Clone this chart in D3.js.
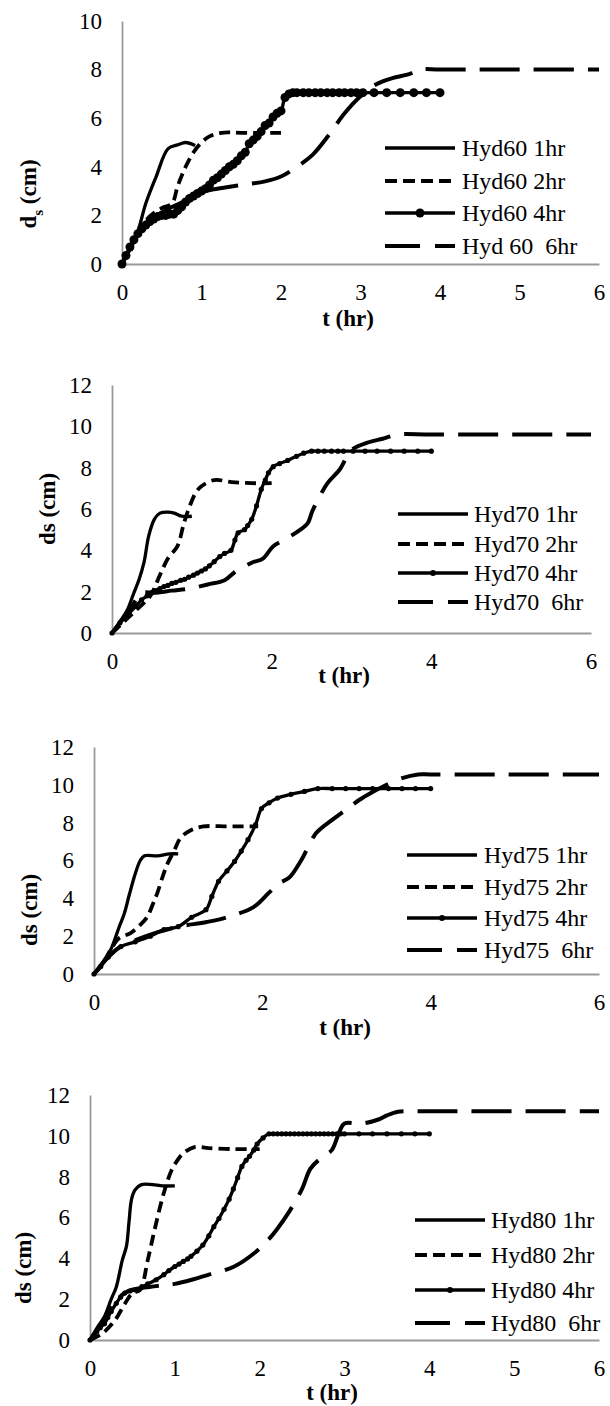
<!DOCTYPE html>
<html>
<head>
<meta charset="utf-8">
<script src="https://cdn.jsdelivr.net/npm/d3@7"></script>
<style>
  body { margin: 0; background: #fff; }
  svg { display: block; }
  text { font-family: "Liberation Serif", "Times New Roman", serif; fill: #000; white-space: pre; }
</style>
</head>
<body>
<svg id="chart" width="610" height="1406"></svg>
<script>
// ---- data: [t (hr), ds (cm)] ----
const hyd60_1hr = [[0,0],[0.1,0.6],[0.2,1.35],[0.3,2.5],[0.43,3.6],[0.58,4.75],[0.7,4.9],[0.8,5.0],[0.92,4.88]];
const hyd60_2hr = [[0,0],[0.1,0.6],[0.2,1.3],[0.3,1.8],[0.4,2.1],[0.5,2.3],[0.63,2.5],[0.7,3.2],[0.8,4.0],[0.9,4.6],[1.0,5.0],[1.1,5.25],[1.25,5.4],[1.5,5.4],[2.0,5.4]];
const hyd60_4hr = [[0,0],[0.05,0.35],[0.1,0.7],[0.15,1.0],[0.2,1.25],[0.25,1.45],[0.3,1.6],[0.35,1.75],[0.4,1.85],[0.45,1.95],[0.5,2.0],[0.55,2.0],[0.6,2.05],[0.65,2.05],[0.7,2.2],[0.75,2.35],[0.8,2.55],[0.85,2.7],[0.9,2.8],[0.95,2.9],[1.0,3.0],[1.05,3.1],[1.1,3.25],[1.15,3.45],[1.2,3.55],[1.25,3.7],[1.3,3.85],[1.35,4.0],[1.4,4.1],[1.45,4.25],[1.5,4.45],[1.55,4.6],[1.6,4.95],[1.65,5.1],[1.7,5.25],[1.75,5.45],[1.8,5.7],[1.85,5.8],[1.9,6.05],[1.95,6.2],[2.0,6.3],[2.05,6.85],[2.1,7.0],[2.15,7.05],[2.2,7.05],[2.28,7.05],[2.35,7.05],[2.43,7.05],[2.5,7.05],[2.58,7.05],[2.65,7.05],[2.73,7.05],[2.8,7.05],[2.88,7.05],[2.95,7.05],[3.03,7.05],[3.17,7.05],[3.33,7.05],[3.5,7.05],[3.67,7.05],[3.83,7.05],[4.0,7.05]];
const hyd60_6hr = [[0,0],[0.2,1.2],[0.4,1.9],[0.6,2.3],[0.8,2.6],[1.0,2.95],[1.2,3.1],[1.5,3.25],[1.8,3.4],[2.0,3.6],[2.2,4.0],[2.4,4.5],[2.6,5.3],[2.8,6.2],[3.0,6.9],[3.2,7.4],[3.4,7.65],[3.6,7.8],[3.75,8.0],[4.0,8.0],[5.0,8.0],[6.0,8.0]];

const hyd70_1hr = [[0,0],[0.1,0.55],[0.19,1.1],[0.27,1.9],[0.34,2.6],[0.4,3.4],[0.46,4.7],[0.53,5.5],[0.6,5.8],[0.7,5.85],[0.78,5.8],[0.87,5.65],[1.0,5.65]];
const hyd70_2hr = [[0,0],[0.15,0.55],[0.3,1.1],[0.48,1.8],[0.6,2.8],[0.7,3.6],[0.82,4.2],[0.9,5.3],[0.97,6.1],[1.05,6.8],[1.12,7.1],[1.28,7.4],[1.5,7.3],[1.75,7.25],[2.0,7.25]];
const hyd70_4hr = [[0,0],[0.1,0.5],[0.2,0.9],[0.3,1.3],[0.37,1.6],[0.44,1.8],[0.5,1.95],[0.55,2.05],[0.6,2.15],[0.65,2.25],[0.7,2.3],[0.75,2.4],[0.8,2.45],[0.86,2.55],[0.91,2.6],[0.96,2.7],[1.02,2.8],[1.07,2.9],[1.12,3.0],[1.17,3.1],[1.22,3.25],[1.28,3.45],[1.35,3.7],[1.41,3.85],[1.49,4.0],[1.54,4.5],[1.58,4.85],[1.66,5.0],[1.7,5.2],[1.75,5.5],[1.81,6.15],[1.87,6.95],[1.92,7.4],[1.96,7.75],[2.02,8.05],[2.1,8.2],[2.2,8.35],[2.31,8.55],[2.4,8.7],[2.5,8.8],[2.58,8.8],[2.66,8.8],[2.75,8.8],[2.83,8.8],[2.9,8.8],[3.02,8.8],[3.17,8.8],[3.32,8.8],[3.49,8.8],[3.66,8.8],[3.83,8.8],[4.0,8.8]];
const hyd70_6hr = [[0,0],[0.1,0.5],[0.2,1.0],[0.3,1.6],[0.36,1.93],[0.55,1.95],[0.75,2.05],[0.97,2.15],[1.2,2.35],[1.41,2.55],[1.54,2.95],[1.75,3.4],[1.89,3.6],[2.02,4.2],[2.2,4.6],[2.36,5.0],[2.45,5.3],[2.51,5.9],[2.6,6.6],[2.7,7.25],[2.85,7.9],[3.0,8.85],[3.19,9.2],[3.39,9.4],[3.58,9.6],[4.0,9.6],[6.0,9.6]];

const hyd75_1hr = [[0,0],[0.1,0.6],[0.2,1.3],[0.3,2.5],[0.36,3.2],[0.42,4.2],[0.49,5.3],[0.55,6.0],[0.6,6.25],[0.75,6.25],[0.9,6.35],[1.0,6.35]];
const hyd75_2hr = [[0,0],[0.1,0.5],[0.2,1.3],[0.3,1.9],[0.43,2.15],[0.55,2.6],[0.63,3.0],[0.7,3.7],[0.75,4.25],[0.82,5.2],[0.87,5.8],[0.95,6.5],[1.03,7.2],[1.15,7.6],[1.3,7.8],[1.6,7.8],[1.95,7.8]];
const hyd75_4hr = [[0,0],[0.08,0.4],[0.17,0.9],[0.32,1.45],[0.49,1.7],[0.67,2.0],[0.83,2.35],[1.0,2.5],[1.16,3.0],[1.33,3.4],[1.4,4.1],[1.48,4.9],[1.58,5.45],[1.67,5.95],[1.75,6.5],[1.83,7.1],[1.92,7.9],[1.99,8.75],[2.08,9.05],[2.18,9.3],[2.34,9.5],[2.5,9.65],[2.66,9.8],[2.83,9.8],[2.99,9.8],[3.15,9.8],[3.31,9.8],[3.5,9.8],[3.66,9.8],[3.82,9.8],[4.0,9.8]];
const hyd75_6hr = [[0,0],[0.15,0.8],[0.3,1.4],[0.5,1.8],[0.75,2.2],[1.0,2.5],[1.34,2.75],[1.58,3.0],[1.9,3.55],[2.08,4.3],[2.2,4.8],[2.32,5.1],[2.46,6.0],[2.64,7.45],[2.83,8.15],[3.0,8.7],[3.15,9.2],[3.3,9.6],[3.43,9.9],[3.66,10.35],[3.85,10.55],[4.0,10.55],[6.0,10.55]];

const hyd80_1hr = [[0,0],[0.1,0.7],[0.17,1.15],[0.25,2.0],[0.31,2.6],[0.38,3.9],[0.43,4.6],[0.46,5.8],[0.49,6.9],[0.53,7.35],[0.6,7.6],[0.77,7.6],[0.85,7.55],[1.0,7.55]];
const hyd80_2hr = [[0,0],[0.1,0.2],[0.17,0.4],[0.3,1.0],[0.4,1.7],[0.5,2.3],[0.59,2.45],[0.68,3.9],[0.77,5.55],[0.87,7.2],[0.96,8.3],[1.03,8.8],[1.1,9.15],[1.23,9.45],[1.4,9.4],[1.7,9.35],[2.0,9.35]];
const hyd80_4hr = [[0,0],[0.04,0.2],[0.08,0.4],[0.12,0.6],[0.17,0.8],[0.21,1.1],[0.25,1.4],[0.31,1.8],[0.36,2.1],[0.41,2.3],[0.47,2.4],[0.54,2.45],[0.61,2.6],[0.68,2.75],[0.78,2.95],[0.87,3.2],[0.93,3.4],[1.0,3.6],[1.05,3.72],[1.1,3.85],[1.15,3.97],[1.19,4.1],[1.26,4.35],[1.33,4.65],[1.4,5.1],[1.46,5.55],[1.52,5.95],[1.58,6.4],[1.64,6.9],[1.69,7.4],[1.74,7.95],[1.79,8.5],[1.84,8.8],[1.88,9.0],[1.93,9.3],[1.97,9.6],[2.04,9.9],[2.11,10.1],[2.16,10.1],[2.21,10.1],[2.26,10.1],[2.31,10.1],[2.36,10.1],[2.41,10.1],[2.46,10.1],[2.51,10.1],[2.56,10.1],[2.61,10.1],[2.66,10.1],[2.71,10.1],[2.76,10.1],[2.81,10.1],[2.86,10.1],[2.91,10.1],[2.96,10.1],[3.0,10.1],[3.17,10.1],[3.33,10.1],[3.5,10.1],[3.67,10.1],[3.83,10.1],[4.0,10.1]];
const hyd80_6hr = [[0,0],[0.15,0.9],[0.3,1.9],[0.45,2.4],[0.7,2.6],[0.9,2.7],[1.0,2.75],[1.2,2.95],[1.4,3.2],[1.7,3.6],[1.95,4.3],[2.1,4.9],[2.2,5.4],[2.35,6.3],[2.5,7.4],[2.6,8.4],[2.75,9.0],[2.85,9.3],[2.94,10.2],[3.0,10.6],[3.2,10.6],[3.4,10.8],[3.5,11.0],[3.63,11.18],[3.8,11.2],[4.0,11.2],[6.0,11.2]];

// ---- legend labels / ticks ----
const labels60 = ["Hyd60 1hr", "Hyd60 2hr", "Hyd60 4hr", "Hyd 60  6hr"];
const labels70 = ["Hyd70 1hr", "Hyd70 2hr", "Hyd70 4hr", "Hyd70  6hr"];
const labels75 = ["Hyd75 1hr", "Hyd75 2hr", "Hyd75 4hr", "Hyd75  6hr"];
const labels80 = ["Hyd80 1hr", "Hyd80 2hr", "Hyd80 4hr", "Hyd80  6hr"];
const xTicksEvery1 = [0, 1, 2, 3, 4, 5, 6];
const xTicksEvery2 = [0, 2, 4, 6];
const yTicks10 = [0, 2, 4, 6, 8, 10];
const yTicks12 = [0, 2, 4, 6, 8, 10, 12];

// line style per series index: 1hr, 2hr, 4hr, 6hr
const dashes = [null, "11,6", null, "40,14"];
const widths = [3.3, 3.8, 3.3, 4];
const serif = "'Liberation Serif', 'Times New Roman', serif";

const panels = [
  { series: [hyd60_1hr, hyd60_2hr, hyd60_4hr, hyd60_6hr], labels: labels60,
    xt: xTicksEvery1, yt: yTicks10, ymax: 10,
    left: 122, right: 599, bottom: 264, top: 21, r: 4.5, legR: 4.5,
    ylab: { x: 28, y: 194, sub: true }, xlab: { x: 348, y: 318 },
    leg: { x: 385, tx: 462, rows: [148, 181, 213, 246] } },
  { series: [hyd70_1hr, hyd70_2hr, hyd70_4hr, hyd70_6hr], labels: labels70,
    xt: xTicksEvery2, yt: yTicks12, ymax: 12,
    left: 112, right: 591, bottom: 633, top: 385, r: 2.6, legR: 3,
    ylab: { x: 47, y: 509 }, xlab: { x: 344, y: 675 },
    leg: { x: 398, tx: 474, rows: [514, 544, 573, 602] } },
  { series: [hyd75_1hr, hyd75_2hr, hyd75_4hr, hyd75_6hr], labels: labels75,
    xt: xTicksEvery2, yt: yTicks12, ymax: 12,
    left: 94, right: 599, bottom: 974, top: 747, r: 2.6, legR: 3,
    ylab: { x: 29, y: 910 }, xlab: { x: 345, y: 1027 },
    leg: { x: 407, tx: 484, rows: [855, 887, 918, 950] } },
  { series: [hyd80_1hr, hyd80_2hr, hyd80_4hr, hyd80_6hr], labels: labels80,
    xt: xTicksEvery1, yt: yTicks12, ymax: 12,
    left: 90, right: 599, bottom: 1340, top: 1095, r: 2.6, legR: 3,
    ylab: { x: 23, y: 1268 }, xlab: { x: 332, y: 1392 },
    leg: { x: 415, tx: 491, rows: [1220, 1255, 1290, 1323] } }
];

const svg = d3.select("#chart");

panels.forEach(p => {
  const x = d3.scaleLinear().domain([0, 6]).range([p.left, p.right]);
  const y = d3.scaleLinear().domain([0, p.ymax]).range([p.bottom, p.top]);
  const g = svg.append("g");

  // axes
  const xAxis = g.append("g")
    .attr("transform", `translate(0,${p.bottom})`)
    .call(d3.axisBottom(x).tickValues(p.xt).tickFormat(d3.format("d"))
      .tickSize(0).tickPadding(20).tickSizeOuter(0));
  const yAxis = g.append("g")
    .attr("transform", `translate(${p.left},0)`)
    .call(d3.axisLeft(y).tickValues(p.yt).tickFormat(d3.format("d"))
      .tickSize(0).tickPadding(20).tickSizeOuter(0));
  [xAxis, yAxis].forEach(a => {
    a.attr("font-family", null).attr("font-size", null);
    a.select(".domain").attr("stroke", "#9a9a9a").attr("stroke-width", 1.8);
    a.selectAll("text").style("font-family", serif).style("font-size", "23px").attr("fill", "#000");
  });

  // series
  const line = d3.line()
    .x(d => x(d[0]))
    .y(d => y(d[1]))
    .curve(d3.curveCatmullRom.alpha(0.5));

  p.series.forEach((s, i) => {
    g.append("path")
      .datum(s)
      .attr("d", line)
      .attr("fill", "none")
      .attr("stroke", "#000")
      .attr("stroke-width", widths[i])
      .attr("stroke-dasharray", dashes[i])
      .attr("stroke-linejoin", "round");
    if (i === 2) {
      g.append("g").selectAll("circle")
        .data(s)
        .join("circle")
        .attr("cx", d => x(d[0]))
        .attr("cy", d => y(d[1]))
        .attr("r", p.r)
        .attr("fill", "#000");
    }
  });

  // legend
  p.labels.forEach((lab, i) => {
    const ry = p.leg.rows[i];
    g.append("line")
      .attr("x1", p.leg.x).attr("x2", p.leg.x + 70)
      .attr("y1", ry).attr("y2", ry)
      .attr("stroke", "#000")
      .attr("stroke-width", widths[i])
      .attr("stroke-dasharray", i === 3 ? "35,15" : (i === 1 ? "12,6" : null));
    if (i === 2) {
      g.append("circle").attr("cx", p.leg.x + 35).attr("cy", ry).attr("r", p.legR).attr("fill", "#000");
    }
    g.append("text")
      .attr("x", p.leg.tx).attr("y", ry)
      .attr("dy", "0.35em")
      .style("font-size", "24px")
      .text(lab);
  });

  // axis titles
  g.append("text")
    .attr("x", p.xlab.x).attr("y", p.xlab.y)
    .attr("dy", "0.35em")
    .attr("text-anchor", "middle")
    .style("font-size", "23px")
    .attr("font-weight", "bold")
    .text("t (hr)");

  const yt = g.append("text")
    .attr("transform", `translate(${p.ylab.x},${p.ylab.y}) rotate(-90)`)
    .attr("dy", "0.35em")
    .attr("text-anchor", "middle")
    .style("font-size", "23px")
    .attr("font-weight", "bold");
  if (p.ylab.sub) {
    yt.append("tspan").text("d");
    yt.append("tspan").style("font-size", "15px").attr("dy", "0.45em").text("s");
    yt.append("tspan").attr("dy", "-0.3em").text(" (cm)");
  } else {
    yt.text("ds (cm)");
  }
});
</script>
</body>
</html>
